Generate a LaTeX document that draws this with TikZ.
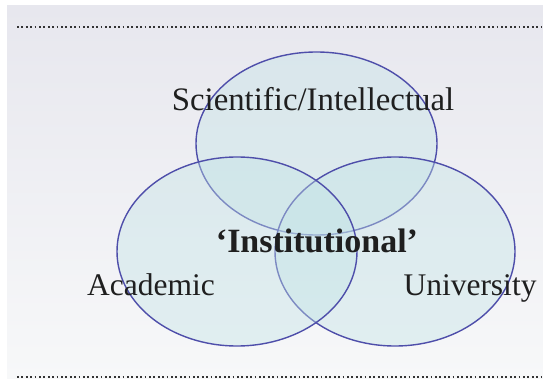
\documentclass[tikz,border=0pt]{standalone}
\usepackage{fontspec}
\setmainfont{Liberation Serif}
\usetikzlibrary{shapes.geometric}

\definecolor{ringline}{RGB}{78,78,170}
\definecolor{ringfill}{RGB}{194,227,230}
\definecolor{bgtop}{RGB}{231,231,238}
\definecolor{bgbottom}{RGB}{247,248,249}

\tikzstyle{ring}=[ellipse, draw=ringline, line width=1.4pt,
                  fill=ringfill, fill opacity=0.4, draw opacity=1, inner sep=0pt]
\tikzstyle{label}=[anchor=base, inner sep=0pt, text=black!88,
                   font=\fontsize{31.5}{36}\selectfont]
\tikzstyle{rule}=[black!80, line width=1.8pt, dash pattern=on 1.8pt off 2.6pt]

\begin{document}
\begin{tikzpicture}[x=1pt, y=-1pt]
\useasboundingbox (0,0) rectangle (543,379);
\fill[white] (0,0) rectangle (543,379);
\shade[top color=bgtop, bottom color=bgbottom] (7,6) rectangle (543,379);

%%%%%%%%%%%%%%%%%%%%%%%%%%%%%%
% rules
\coordinate (top_l) at (17,27);
\coordinate (top_r) at (543,27);
\coordinate (bot_l) at (17,377);
\coordinate (bot_r) at (543,377);
\draw[rule] (top_l) -- (top_r);
\draw[rule] (bot_l) -- (bot_r);

%%%%%%%%%%%%%%%%%%%%%%%%%%%%%%
% rings

\node (sci) at (316.5,143.5) [ring, minimum width=241pt, minimum height=183pt] {};

\node (uni) at (395,251.5) [ring, minimum width=240pt, minimum height=189pt] {};

\node (acad) at (237,251.5) [ring, minimum width=240pt, minimum height=189pt] {};

%%%%%%%%%%%%%%%%%%%%%%%%%%%%%%
% labels

\node (sci_t) at (313,111) [label, font=\fontsize{32.8}{37}\selectfont] {Scientific/Intellectual};

\node (inst_t) at (317,253) [label, font=\fontsize{34}{38}\selectfont\bfseries] {‘Institutional’};

\node (acad_t) at (151,295) [label] {Academic};

\node (uni_t) at (470,295) [label] {University};

\end{tikzpicture}
\end{document}
